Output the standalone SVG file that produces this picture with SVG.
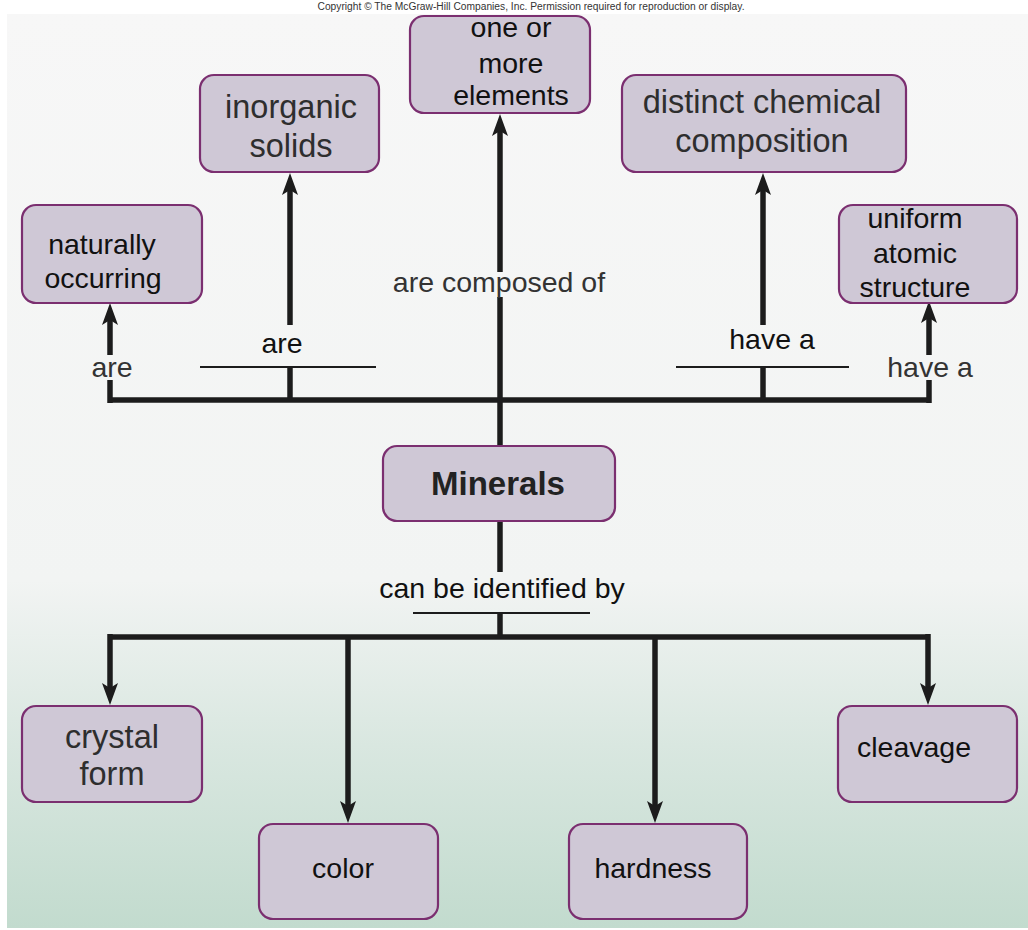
<svg xmlns="http://www.w3.org/2000/svg" width="1028" height="930" viewBox="0 0 1028 930">
<defs>
<linearGradient id="bg" x1="0" y1="0" x2="0" y2="1">
<stop offset="0" stop-color="#f7f7f7"/>
<stop offset="0.62" stop-color="#f2f4f3"/>
<stop offset="0.8" stop-color="#d9e7e0"/>
<stop offset="1" stop-color="#c2dbce"/>
</linearGradient>
<marker id="ah" markerUnits="userSpaceOnUse" markerWidth="22" markerHeight="22" viewBox="0 0 22 22" refX="11" refY="11" orient="auto">
<path d="M0,3 L22,11 L0,19 L5,11 z" fill="#1c1c1c"/>
</marker>
<style>
.box{fill:#cfc8d6;stroke:#7b2f70;stroke-width:2.2}
.t{font-family:"Liberation Sans",Arial,sans-serif;font-size:28.5px;fill:#111;text-anchor:middle}
.g{font-family:"Liberation Sans",Arial,sans-serif;font-size:32.5px;fill:#2e2e2e;text-anchor:middle}
.lbl{font-family:"Liberation Sans",Arial,sans-serif;font-size:28.5px;fill:#333;text-anchor:middle}
.thick{stroke:#1c1c1c;stroke-width:5.5;fill:none}
.thin{stroke:#1c1c1c;stroke-width:2;fill:none}
</style>
</defs>
<rect x="0" y="0" width="1028" height="930" fill="#ffffff"/>
<rect x="7" y="14" width="1021" height="914" fill="url(#bg)"/>
<text x="531" y="10" font-family="Liberation Sans,Arial,sans-serif" font-size="10" fill="#333" text-anchor="middle" textLength="427" lengthAdjust="spacingAndGlyphs">Copyright © The McGraw-Hill Companies, Inc. Permission required for reproduction or display.</text>

<g id="connectors">
<path class="thick" d="M110 400 H929"/>
<path class="thick" d="M110 403 V380"/>
<path class="thick" d="M110 355 V314" marker-end="url(#ah)"/>
<path class="thick" d="M929 403 V380"/>
<path class="thick" d="M929 355 V312" marker-end="url(#ah)"/>
<path class="thick" d="M290 400 V367"/>
<path class="thin" d="M200 367 H376"/>
<path class="thick" d="M290 325 V184" marker-end="url(#ah)"/>
<path class="thick" d="M763 400 V367"/>
<path class="thin" d="M676 367 H849"/>
<path class="thick" d="M763 325 V184" marker-end="url(#ah)"/>
<path class="thick" d="M500 446 V297"/>
<path class="thick" d="M500 272 V125" marker-end="url(#ah)"/>
<path class="thick" d="M500 521 V572"/>
<path class="thin" d="M413 613 H590"/>
<path class="thick" d="M500 613 V637"/>
<path class="thick" d="M110 637 H928"/>
<path class="thick" d="M110 634 V694" marker-end="url(#ah)"/>
<path class="thick" d="M348 637 V812" marker-end="url(#ah)"/>
<path class="thick" d="M655 637 V812" marker-end="url(#ah)"/>
<path class="thick" d="M928 634 V694" marker-end="url(#ah)"/>
<text class="lbl" x="112" y="377">are</text>
<text class="t" x="282" y="353">are</text>
<text class="lbl" x="499" y="292">are composed of</text>
<text class="t" x="772" y="349">have a</text>
<text class="lbl" x="930" y="377">have a</text>
<text class="t" x="502" y="598">can be identified by</text>
</g>

<g id="node-elements">
<rect class="box" x="410" y="16" width="180" height="97" rx="14"/>
<text class="t" x="511" y="37">one or</text>
<text class="t" x="511" y="73">more</text>
<text class="t" x="511" y="105">elements</text>
</g>
<g id="node-inorganic">
<rect class="box" x="200" y="75" width="179" height="97" rx="14"/>
<text class="g" x="291" y="118">inorganic</text>
<text class="g" x="291" y="157">solids</text>
</g>
<g id="node-chemical">
<rect class="box" x="622" y="75" width="284" height="97" rx="14"/>
<text class="g" x="762" y="113">distinct chemical</text>
<text class="g" x="762" y="152">composition</text>
</g>
<g id="node-naturally">
<rect class="box" x="22" y="205" width="180" height="98" rx="14"/>
<text class="t" x="102" y="254">naturally</text>
<text class="t" x="103" y="288">occurring</text>
</g>
<g id="node-uniform">
<rect class="box" x="839" y="205" width="178" height="98" rx="14"/>
<text class="t" x="915" y="228">uniform</text>
<text class="t" x="915" y="263">atomic</text>
<text class="t" x="915" y="297">structure</text>
</g>
<g id="node-minerals">
<rect class="box" x="383" y="446" width="232" height="75" rx="14"/>
<text x="498" y="495" font-family="Liberation Sans,Arial,sans-serif" font-size="33" font-weight="bold" fill="#222" text-anchor="middle">Minerals</text>
</g>
<g id="node-crystal">
<rect class="box" x="22" y="706" width="180" height="96" rx="14"/>
<text class="g" x="112" y="748">crystal</text>
<text class="g" x="112" y="785">form</text>
</g>
<g id="node-color">
<rect class="box" x="259" y="824" width="179" height="95" rx="14"/>
<text class="t" x="343" y="878">color</text>
</g>
<g id="node-hardness">
<rect class="box" x="569" y="824" width="178" height="95" rx="14"/>
<text class="t" x="653" y="878">hardness</text>
</g>
<g id="node-cleavage">
<rect class="box" x="838" y="706" width="179" height="96" rx="14"/>
<text class="t" x="914" y="757">cleavage</text>
</g>
</svg>
